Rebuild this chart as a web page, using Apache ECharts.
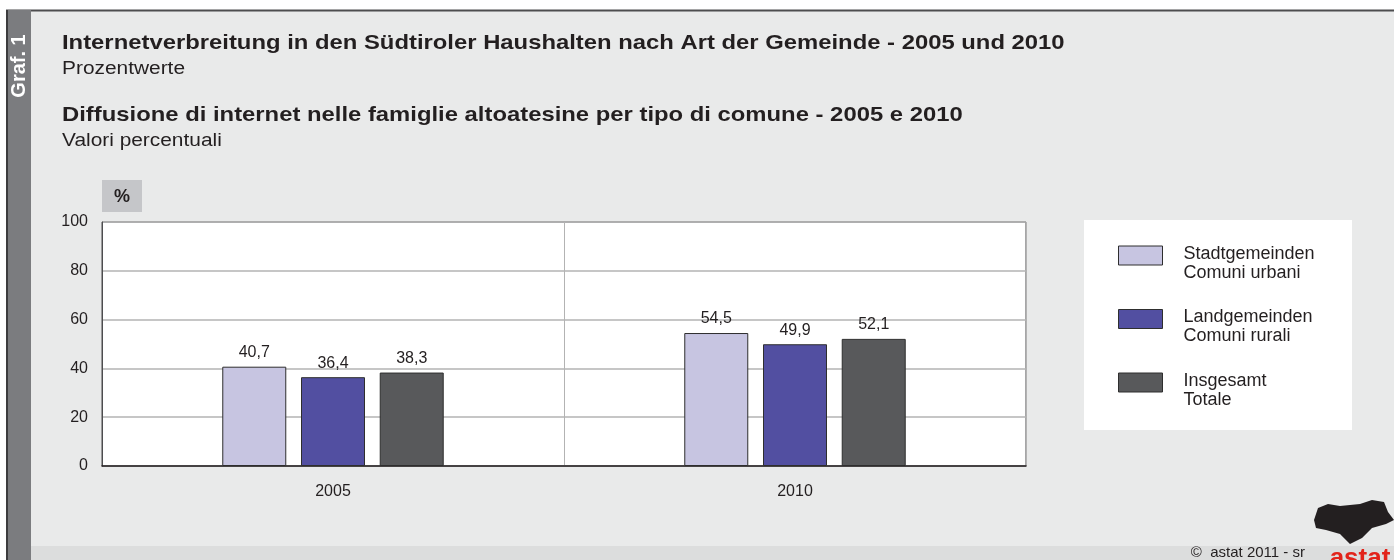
<!DOCTYPE html>
<html><head><meta charset="utf-8">
<script src="https://cdn.jsdelivr.net/npm/echarts@6/dist/echarts.min.js"></script>
<style>html,body{margin:0;padding:0;background:#fff}#c{width:1394px;height:560px}</style>
</head><body><div id="c"></div>
<script>
const categories = ['2005', '2010'];
const seriesNames = ['Stadtgemeinden\nComuni urbani', 'Landgemeinden\nComuni rurali', 'Insgesamt\nTotale'];
const urban = [40.7, 54.5];
const rural = [36.4, 49.9];
const total = [38.3, 52.1];
const yTicks = [0, 20, 40, 60, 80, 100];
const colors = ['#c7c5e1', '#524fa1', '#58595b'];

const FONT = '"Liberation Sans", Arial, sans-serif';
const chart = echarts.init(document.getElementById('c'), null, {renderer: 'canvas'});
const fmt = p => String(p.value).replace('.', ',');
function bar(name, data, color) {
  return {
    name, type: 'bar', data, barWidth: 64, barGap: '23%',
    itemStyle: {color, borderColor: '#2e2e2e', borderWidth: 1},
    label: {show: true, position: 'top', distance: 6, formatter: fmt, color: '#231f20', fontSize: 16, fontFamily: FONT}
  };
}
function txt(x, y, text, font, sx) {
  return {type: 'text', x, y, scaleX: sx || 1, style: {text, fill: '#231f20', font: font + ' ' + FONT, textAlign: 'left', textVerticalAlign: 'middle'}};
}
chart.setOption({
  animation: false,
  backgroundColor: '#ffffff',
  textStyle: {fontFamily: FONT},
  graphic: [
    {type: 'rect', shape: {x: 6, y: 10, width: 1388, height: 550}, style: {fill: '#e9eaea'}, z: -10},
    {type: 'rect', shape: {x: 6, y: 546, width: 1388, height: 14}, style: {fill: '#dcdddd'}, z: -9},
    {type: 'line', shape: {x1: 6, y1: 10.5, x2: 1394, y2: 10.5}, style: {stroke: '#4d4d4f', lineWidth: 2}, z: -8},
    {type: 'rect', shape: {x: 6, y: 10, width: 25, height: 550}, style: {fill: '#7b7c7f'}, z: -8},
    {type: 'line', shape: {x1: 7, y1: 10, x2: 7, y2: 560}, style: {stroke: '#3c3c3e', lineWidth: 2}, z: -7},
    {type: 'text', x: 19, y: 66, rotation: Math.PI / 2, style: {text: 'Graf. 1', fill: '#ffffff', font: 'bold 20px ' + FONT, textAlign: 'center', textVerticalAlign: 'middle'}},
    txt(62, 43, 'Internetverbreitung in den Südtiroler Haushalten nach Art der Gemeinde - 2005 und 2010', 'bold 21px', 1.135),
    txt(62, 69, 'Prozentwerte', '18px', 1.16),
    txt(62, 115, 'Diffusione di internet nelle famiglie altoatesine per tipo di comune - 2005 e 2010', 'bold 21px', 1.135),
    txt(62, 141, 'Valori percentuali', '18px', 1.16),
    {type: 'rect', shape: {x: 102, y: 180, width: 40, height: 32}, style: {fill: '#c5c6c9'}},
    {type: 'text', x: 122, y: 197, style: {text: '%', fill: '#231f20', font: 'bold 18px ' + FONT, textAlign: 'center', textVerticalAlign: 'middle'}},
    {type: 'rect', shape: {x: 1084, y: 220, width: 268, height: 210}, style: {fill: '#ffffff'}, z: -5},
    {type: 'text', x: 1305, y: 553, style: {text: '©  astat 2011 - sr', fill: '#231f20', font: '15px ' + FONT, textAlign: 'right', textVerticalAlign: 'middle'}},
    {type: 'text', x: 1360, y: 559, style: {text: 'astat', fill: '#e2231a', font: 'bold 26px ' + FONT, textAlign: 'center', textVerticalAlign: 'middle'}},
    {type: 'polygon', shape: {points: [[1314,520],[1318,508],[1328,504],[1340,506],[1360,504],[1372,500],[1384,502],[1388,512],[1394,520],[1386,524],[1372,528],[1362,538],[1350,544],[1340,534],[1326,530],[1316,528]]}, style: {fill: '#231f20'}}
  ],
  legend: {
    orient: 'vertical', left: 1118, top: 227.5, padding: 0, itemWidth: 44, itemHeight: 19, itemGap: 9,
    icon: 'rect',
    data: seriesNames,
    formatter: name => '{s|}\n' + name.split('\n').map(l => '{t|' + l + '}').join('\n'),
    textStyle: {
      color: '#231f20', fontFamily: FONT, fontSize: 18,
      rich: {s: {height: 16, lineHeight: 16}, t: {fontSize: 18, lineHeight: 19, color: '#231f20', fontFamily: FONT, padding: [0, 0, 0, 16]}}
    },
    itemStyle: {borderColor: '#2e2e2e', borderWidth: 1}
  },
  grid: {left: 102, right: 368, top: 222, bottom: 94, show: true, backgroundColor: '#ffffff', borderColor: '#4d4d4f', borderWidth: 1},
  xAxis: {
    type: 'category', data: categories,
    axisLine: {show: true, lineStyle: {color: '#231f20', width: 1.5}},
    axisTick: {show: false},
    axisLabel: {fontSize: 16, color: '#231f20', margin: 18, fontFamily: FONT},
    splitLine: {show: true, lineStyle: {color: '#b3b3b3', width: 1}}
  },
  yAxis: {
    type: 'value', min: 0, max: 100, interval: 20,
    axisLine: {show: true, lineStyle: {color: '#4d4d4f'}},
    axisTick: {show: false},
    axisLabel: {fontSize: 16, color: '#231f20', margin: 14, fontFamily: FONT, formatter: v => yTicks.includes(v) ? String(v) : ''},
    splitLine: {lineStyle: {color: '#b3b3b3', width: 1.5}}
  },
  series: [
    bar(seriesNames[0], urban, colors[0]),
    bar(seriesNames[1], rural, colors[1]),
    bar(seriesNames[2], total, colors[2])
  ]
});
</script></body></html>
